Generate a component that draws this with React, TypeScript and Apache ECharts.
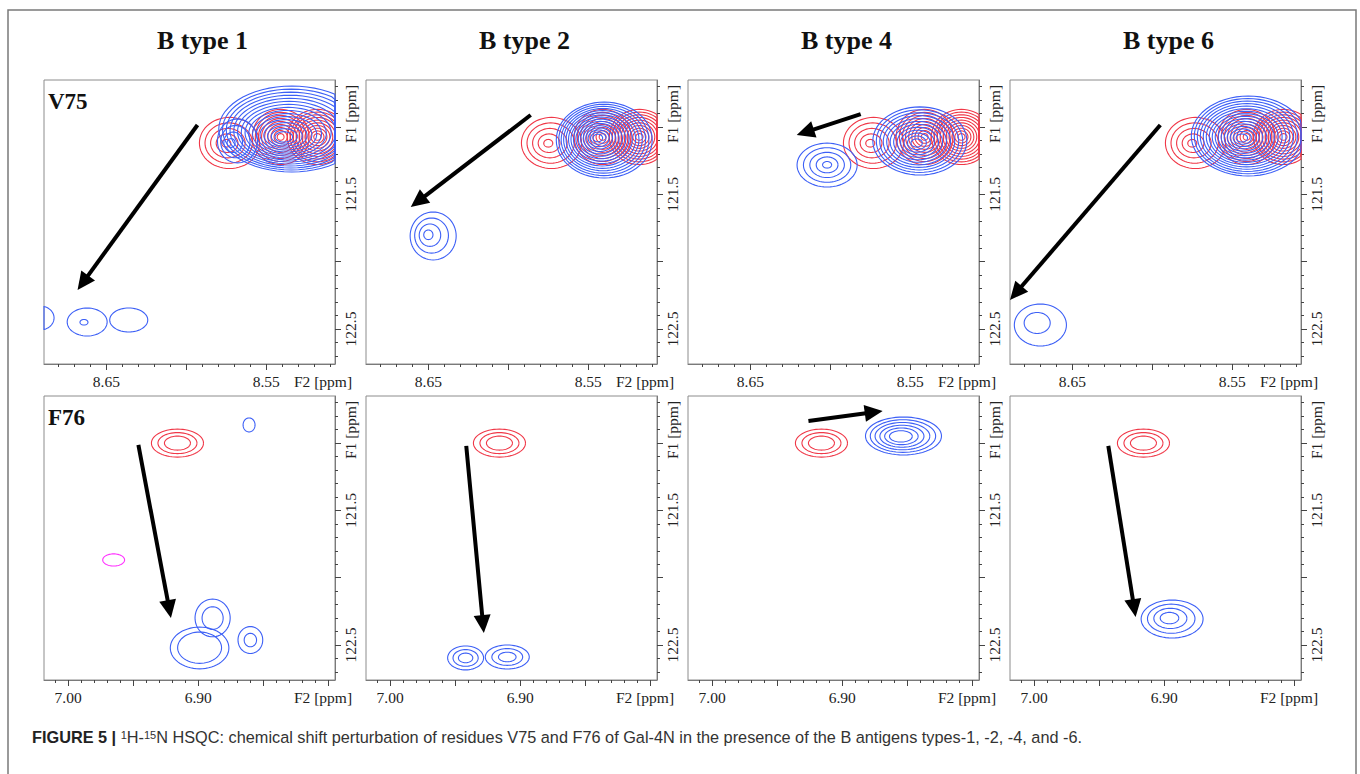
import React, { useEffect, useRef } from 'react';
import * as echarts from 'echarts';

// ---------- text ----------
const panelTitles = ['B type 1', 'B type 2', 'B type 4', 'B type 6'];
const rowLabels = ['V75', 'F76'];
const xAxisName = 'F2 [ppm]';
const yAxisName = 'F1 [ppm]';

// ---------- axes (ppm) ----------
const xRangeV75 = [8.507, 8.689];
const xRangeF76 = [6.795, 7.0185];
const yRange = [120.65, 122.76];

const xMajorV75 = [8.55, 8.6, 8.65];
const xLabelV75 = [8.55, 8.65];
const xMinorV75 = [8.51, 8.52, 8.53, 8.54, 8.55, 8.56, 8.57, 8.58, 8.59, 8.6, 8.61, 8.62, 8.63, 8.64, 8.65, 8.66, 8.67, 8.68];
const xMajorF76 = [6.8, 6.85, 6.9, 6.95, 7.0];
const xLabelF76 = [6.9, 7.0];
const xMinorF76 = [6.8, 6.81, 6.82, 6.83, 6.84, 6.85, 6.86, 6.87, 6.88, 6.89, 6.9, 6.91, 6.92, 6.93, 6.94, 6.95, 6.96, 6.97, 6.98, 6.99, 7.0, 7.01];
const yMajor = [121.0, 121.5, 122.0, 122.5];
const yLabels = [121.5, 122.5];
const yMinor = [120.7, 120.8, 120.9, 121.0, 121.1, 121.2, 121.3, 121.4, 121.5, 121.6, 121.7, 121.8, 121.9, 122.0, 122.1, 122.2, 122.3, 122.4, 122.5, 122.6, 122.7];

// ---------- peaks: [F2, F1, halfWidthF2, halfWidthF1, levels, innerF2, innerF1, innerScale] ----------
const redV75 = [
  [8.573, 121.118, 0.0188, 0.19, 5, 8.575, 121.12, 0.15],
  [8.541, 121.073, 0.0178, 0.205, 9, 8.541, 121.073, 0.12],
  [8.518, 121.073, 0.0188, 0.205, 10, 8.518, 121.073, 0.12],
];
const redF76 = [
  [6.916, 121.0, 0.02, 0.104, 3, 6.916, 121.0, 0.5],
];
const blueV75Type1 = [
  [8.534, 121.014, 0.0457, 0.319, 16, 8.539, 121.073, 0.12],
  [8.568, 121.103, 0.0125, 0.163, 4, 8.572, 121.118, 0.2],
  [8.6915, 122.418, 0.0088, 0.089, 1, 8.6915, 122.418, 1],
  [8.662, 122.448, 0.0125, 0.104, 2, 8.664, 122.45, 0.2],
  [8.636, 122.433, 0.0119, 0.089, 1, 8.636, 122.433, 1],
];
const blueV75Type2 = [
  [8.540, 121.096, 0.030, 0.282, 16, 8.544, 121.081, 0.1],
  [8.647, 121.809, 0.0144, 0.178, 4, 8.650, 121.80, 0.2],
];
const blueV75Type4 = [
  [8.544, 121.103, 0.0294, 0.253, 12, 8.546, 121.118, 0.12],
  [8.602, 121.282, 0.0188, 0.163, 5, 8.602, 121.28, 0.15],
];
const blueV75Type6 = [
  [8.540, 121.066, 0.0356, 0.297, 16, 8.544, 121.081, 0.1],
  [8.670, 122.47, 0.0163, 0.156, 2, 8.672, 122.455, 0.5],
];
const blueF76Type1 = [
  [6.861, 120.865, 0.0046, 0.052, 1, 6.861, 120.865, 1],
  [6.889, 122.299, 0.0135, 0.14, 2, 6.889, 122.30, 0.6],
  [6.860, 122.463, 0.0095, 0.1, 2, 6.860, 122.463, 0.5],
  [6.899, 122.522, 0.0225, 0.155, 2, 6.899, 122.52, 0.75],
];
const blueF76Type2 = [
  [6.942, 122.596, 0.0138, 0.089, 3, 6.942, 122.596, 0.4],
  [6.910, 122.589, 0.0169, 0.089, 3, 6.910, 122.589, 0.4],
];
const blueF76Type4 = [
  [6.853, 120.947, 0.0292, 0.141, 6, 6.855, 120.95, 0.3],
];
const blueF76Type6 = [
  [6.894, 122.307, 0.0238, 0.141, 4, 6.896, 122.30, 0.3],
];
const magentaF76Type1 = [
  [6.965, 121.868, 0.0084, 0.045, 1, 6.965, 121.868, 1],
];
// arrows: [fromF2, fromF1, toF2, toF1]
const arrowsV75 = [
  [8.593, 120.984, 8.668, 122.21],
  [8.586, 120.91, 8.661, 121.594],
  [8.581, 120.903, 8.621, 121.059],
  [8.595, 120.984, 8.689, 122.284],
];
const arrowsF76 = [
  [6.946, 121.014, 6.921, 122.299],
  [6.9415, 121.021, 6.928, 122.411],
  [6.926, 120.836, 6.869, 120.761],
  [6.943, 121.021, 6.922, 122.292],
];

const blueV75 = [blueV75Type1, blueV75Type2, blueV75Type4, blueV75Type6];
const blueF76 = [blueF76Type1, blueF76Type2, blueF76Type4, blueF76Type6];

// ---------- styles / layout ----------
const SERIF = 'Liberation Serif, Times New Roman, serif';
const SANS = 'Liberation Sans, Arial, sans-serif';
const RED = '#f03848';
const BLUE = '#3d60f6';
const MAGENTA = '#ff30ff';
const panelLefts = [44, 366, 688, 1010];
const panelTops = [80, 396];
const panelW = 291;
const panelH = 284;

const clamp = (v: number, a: number, b: number) => Math.min(b, Math.max(a, v));

const contourRenderer = (color: string) => (params: any, api: any) => {
  const cs = params.coordSys;
  const x0 = cs.x, x1 = cs.x + cs.width, y0 = cs.y, y1 = cs.y + cs.height;
  const c0 = api.coord([api.value(0), api.value(1)]);
  const ci = api.coord([api.value(5), api.value(6)]);
  const s = api.size([api.value(2) * 2, api.value(3) * 2], [api.value(0), api.value(1)]);
  const n = api.value(4);
  const inner = api.value(7);
  const children: any[] = [];
  for (let k = 0; k < n; k++) {
    const t = n === 1 ? 0 : k / (n - 1);
    const f = 1 - (1 - inner) * t;
    const cx = c0[0] + (ci[0] - c0[0]) * t;
    const cy = c0[1] + (ci[1] - c0[1]) * t;
    const rx = (s[0] / 2) * f;
    const ry = (s[1] / 2) * f;
    const pts: number[][] = [];
    for (let j = 0; j <= 60; j++) {
      const a = (j / 60) * Math.PI * 2;
      pts.push([clamp(cx + rx * Math.cos(a), x0, x1), clamp(cy + ry * Math.sin(a), y0, y1)]);
    }
    children.push({
      type: 'polyline',
      shape: { points: pts },
      style: { stroke: color, fill: 'none', lineWidth: 1.1 },
      silent: true,
    });
  }
  return { type: 'group', children };
};

const arrowRenderer = (params: any, api: any) => {
  const p1 = api.coord([api.value(0), api.value(1)]);
  const p2 = api.coord([api.value(2), api.value(3)]);
  const dx = p2[0] - p1[0], dy = p2[1] - p1[1];
  const L = Math.hypot(dx, dy) || 1;
  const ux = dx / L, uy = dy / L;
  const hl = 18, hw = 8.5;
  const bx = p2[0] - ux * hl, by = p2[1] - uy * hl;
  return {
    type: 'group',
    children: [
      {
        type: 'line',
        shape: { x1: p1[0], y1: p1[1], x2: bx + ux * 3, y2: by + uy * 3 },
        style: { stroke: '#000', lineWidth: 4 },
        silent: true,
      },
      {
        type: 'polygon',
        shape: { points: [[p2[0], p2[1]], [bx - uy * hw, by + ux * hw], [bx + uy * hw, by - ux * hw]] },
        style: { fill: '#000' },
        silent: true,
      },
    ],
  };
};

function buildOption() {
  const grid: any[] = [];
  const xAxis: any[] = [];
  const yAxis: any[] = [];
  const series: any[] = [];
  const graphic: any[] = [];

  graphic.push({
    type: 'rect',
    shape: { x: 8, y: 10, width: 1348, height: 800 },
    style: { fill: 'none', stroke: '#7a7a7a', lineWidth: 1.5 },
    silent: true,
    z: 0,
  });

  for (let r = 0; r < 2; r++) {
    for (let c = 0; c < 4; c++) {
      const gi = r * 4 + c;
      const left = panelLefts[c];
      const top = panelTops[r];
      grid.push({ left, top, width: panelW, height: panelH, show: true, borderColor: '#8c8c8c', borderWidth: 1, backgroundColor: '#fff' });
      const xr = r === 0 ? xRangeV75 : xRangeF76;
      const xMaj = r === 0 ? xMajorV75 : xMajorF76;
      const xLab = r === 0 ? xLabelV75 : xLabelF76;
      const xMin = r === 0 ? xMinorV75 : xMinorF76;
      xAxis.push({
        gridIndex: gi, type: 'value', min: xr[0], max: xr[1], inverse: true, position: 'bottom',
        axisLine: { show: true, onZero: false, lineStyle: { color: '#7a7a7a', width: 1 } },
        axisTick: { show: true, inside: false, length: 6, customValues: xMaj, lineStyle: { color: '#444', width: 1 } },
        axisLabel: { show: true, customValues: xLab, formatter: (v: number) => v.toFixed(2), fontFamily: SERIF, fontSize: 15.5, color: '#222', margin: 9 },
        splitLine: { show: false },
      });
      xAxis.push({
        gridIndex: gi, type: 'value', min: xr[0], max: xr[1], inverse: true, position: 'bottom',
        axisLine: { show: false, onZero: false },
        axisTick: { show: true, inside: false, length: 3, customValues: xMin, lineStyle: { color: '#444', width: 1 } },
        axisLabel: { show: false },
        splitLine: { show: false },
      });
      yAxis.push({
        gridIndex: gi, type: 'value', min: yRange[0], max: yRange[1], inverse: true, position: 'right',
        axisLine: { show: true, onZero: false, lineStyle: { color: '#7a7a7a', width: 1 } },
        axisTick: { show: true, inside: false, length: 6, customValues: yMajor, lineStyle: { color: '#444', width: 1 } },
        axisLabel: { show: true, customValues: yLabels, rotate: 90, formatter: (v: number) => v.toFixed(1), fontFamily: SERIF, fontSize: 15.5, color: '#222', margin: 7 },
        splitLine: { show: false },
      });
      yAxis.push({
        gridIndex: gi, type: 'value', min: yRange[0], max: yRange[1], inverse: true, position: 'right',
        axisLine: { show: false, onZero: false },
        axisTick: { show: true, inside: false, length: 3, customValues: yMinor, lineStyle: { color: '#444', width: 1 } },
        axisLabel: { show: false },
        splitLine: { show: false },
      });

      const base = { type: 'custom', xAxisIndex: 2 * gi, yAxisIndex: 2 * gi, silent: true, encode: { x: 0, y: 1 } };
      series.push({ ...base, renderItem: contourRenderer(RED), data: r === 0 ? redV75 : redF76, z: 2 });
      series.push({ ...base, renderItem: contourRenderer(BLUE), data: r === 0 ? blueV75[c] : blueF76[c], z: 3 });
      if (r === 1 && c === 0) {
        series.push({ ...base, renderItem: contourRenderer(MAGENTA), data: magentaF76Type1, z: 3 });
      }
      series.push({ ...base, renderItem: arrowRenderer, data: [r === 0 ? arrowsV75[c] : arrowsF76[c]], z: 5 });

      // axis names
      graphic.push({
        type: 'text', x: left + 279, y: top + panelH + 9, silent: true,
        style: { text: xAxisName, font: `15.5px ${SERIF}`, fill: '#222', align: 'center', verticalAlign: 'top' },
      });
      graphic.push({
        type: 'text', x: left + panelW + 15, y: top + 34, rotation: Math.PI / 2, silent: true,
        style: { text: yAxisName, font: `15.5px ${SERIF}`, fill: '#222', align: 'center', verticalAlign: 'middle' },
      });
      if (r === 0) {
        graphic.push({
          type: 'text', x: left + panelW / 2 + 13, y: 40, silent: true,
          style: { text: panelTitles[c], font: `bold 26px ${SERIF}`, fill: '#111', align: 'center', verticalAlign: 'middle' },
        });
      }
    }
    graphic.push({
      type: 'text', x: 48, y: panelTops[r] + 21, silent: true, z: 10,
      style: { text: rowLabels[r], font: `bold 23px ${SERIF}`, fill: '#111', align: 'left', verticalAlign: 'middle' },
    });
  }

  graphic.push({
    type: 'text', x: 32, y: 737, silent: true,
    style: {
      text: '{b|FIGURE 5 |} {s|1}H-{s|15}N HSQC: chemical shift perturbation of residues V75 and F76 of Gal-4N in the presence of the B antigens types-1, -2, -4, and -6.',
      font: `16.3px ${SANS}`,
      fill: '#333',
      align: 'left',
      verticalAlign: 'middle',
      rich: {
        b: { fontFamily: SANS, fontSize: 16.3, fontWeight: 'bold', fill: '#222' },
        s: { fontFamily: SANS, fontSize: 11, fill: '#333', verticalAlign: 'top' },
      },
    },
  });

  return {
    animation: false,
    backgroundColor: '#ffffff',
    grid, xAxis, yAxis, series, graphic,
  };
}

export default function App() {
  const ref = useRef<HTMLDivElement>(null);
  useEffect(() => {
    if (!ref.current) return;
    const chart = echarts.init(ref.current, undefined, { renderer: 'svg' });
    chart.setOption(buildOption() as any);
    return () => chart.dispose();
  }, []);
  return <div ref={ref} style={{ position: 'fixed', left: 0, top: 0, width: 1360, height: 774, background: '#fff' }} />;
}
